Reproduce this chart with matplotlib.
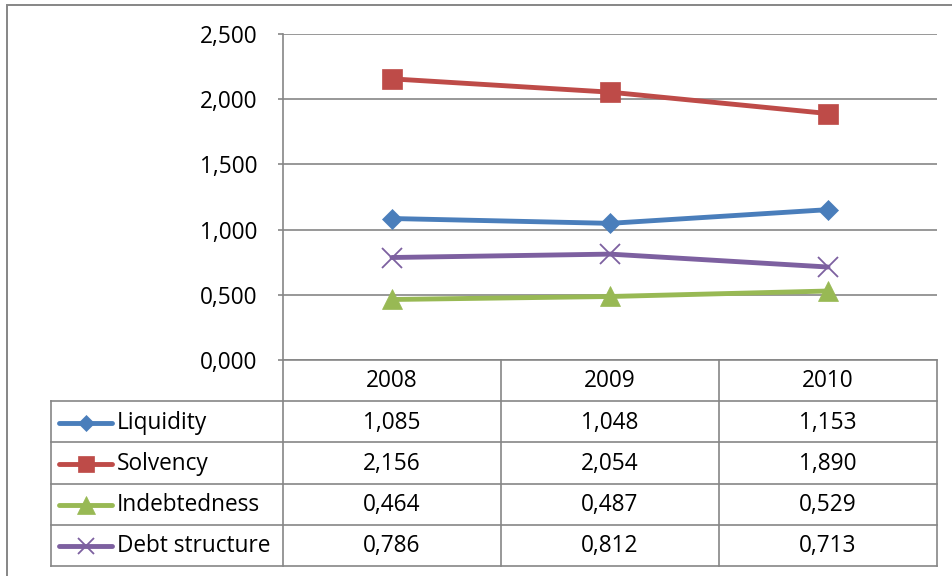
import numpy as np
import matplotlib
matplotlib.use("Agg")
import matplotlib.pyplot as plt
from matplotlib.lines import Line2D
from matplotlib.patches import Rectangle
from matplotlib.ticker import FuncFormatter

plt.rcParams['font.family'] = ['Open Sans', 'DejaVu Sans']

# data
years = ['2008', '2009', '2010']
series_names = ['Liquidity', 'Solvency', 'Indebtedness', 'Debt structure']
liquidity = [1.085, 1.048, 1.153]
solvency = [2.156, 2.054, 1.890]
indebtedness = [0.464, 0.487, 0.529]
debt_structure = [0.786, 0.812, 0.713]
y_ticks = [0.0, 0.5, 1.0, 1.5, 2.0, 2.5]

# styles: color, marker, markersize, markeredgewidth
styles = [
    ('#4A7EBB', 'D', 10, 0.5),
    ('#BE4B48', 's', 14, 0.5),
    ('#98B954', '^', 14.5, 0.5),
    ('#7D60A0', 'x', 14, 1.3),
]
values = [liquidity, solvency, indebtedness, debt_structure]

W, H, DPI = 953, 576, 100
GRID = '#868686'
FS = 16.3

fig = plt.figure(figsize=(W / DPI, H / DPI), dpi=DPI)

def px_box(x0, y0, x1, y1):
    # pixel box (top-left origin) -> figure fraction [l, b, w, h]
    return [x0 / W, 1 - y1 / H, (x1 - x0) / W, (y1 - y0) / H]

# outer chart frame (cut off on the right and bottom)
fig.patches.append(Rectangle((7 / W, -0.1), 1.2, 1 - 5 / H + 0.1, transform=fig.transFigure,
                             fill=False, edgecolor=GRID, lw=1.4))

# main plot area
ax = fig.add_axes(px_box(283, 34, 937, 360))
x = np.arange(len(years))
for name, vals, (c, m, ms, mew) in zip(series_names, values, styles):
    ax.plot(x, vals, color=c, lw=3.5, marker=m, markersize=ms,
            markerfacecolor=c, markeredgecolor=c, markeredgewidth=mew,
            solid_capstyle='round', label=name, zorder=3)

ax.set_xlim(-0.5, 2.5)
ax.set_ylim(0, 2.5)
ax.set_yticks(y_ticks)
ax.yaxis.set_major_formatter(FuncFormatter(lambda v, p: f"{v:.3f}".replace('.', ',')))
ax.set_xticks([])
ax.grid(axis='y', color=GRID, lw=1.2)
ax.set_axisbelow(True)
for s in ['top', 'right', 'bottom']:
    ax.spines[s].set_visible(False)
ax.spines['left'].set_color(GRID)
ax.spines['left'].set_linewidth(1.2)
ax.tick_params(axis='y', length=3.6, width=1.2, color=GRID, labelsize=FS, pad=15)

# data table under the plot, sharing the category scale
left_units = (283 - 51) / 218.0
tab = fig.add_axes(px_box(51, 360, 937, 566))
tab.set_xlim(-0.5 - left_units, 2.5)
tab.set_ylim(5, 0)
tab.axis('off')
xl = -0.5 - left_units
tl_kw = dict(color=GRID, lw=1.2, clip_on=False)
tab.plot([-0.5, 2.5], [0, 0], **tl_kw)
for r in range(1, 6):
    tab.plot([xl, 2.5], [r, r], **tl_kw)
tab.plot([xl, xl], [1, 5], **tl_kw)
for c in [-0.5, 0.5, 1.5, 2.5]:
    tab.plot([c, c], [0, 5], **tl_kw)

for i, yr in enumerate(years):
    tab.text(i, 0.52, yr, ha='center', va='center', fontsize=FS)

def ux(px):
    return (px - 283) / 218.0 - 0.5

for r, (name, vals, (c, m, ms, mew)) in enumerate(zip(series_names, values, styles), start=1):
    yc = r + 0.52
    tab.add_line(Line2D([ux(59), ux(112)], [yc, yc], color=c, lw=3.5, solid_capstyle='round'))
    tab.add_line(Line2D([ux(86)], [yc], color=c, marker=m, markersize=ms * 0.85,
                        markerfacecolor=c, markeredgecolor=c, markeredgewidth=mew))
    tab.text(ux(117), yc, name, ha='left', va='center', fontsize=FS)
    for i, v in enumerate(vals):
        tab.text(i, yc, f"{v:.3f}".replace('.', ','), ha='center', va='center', fontsize=FS)

fig.savefig('out.png', dpi=DPI)
